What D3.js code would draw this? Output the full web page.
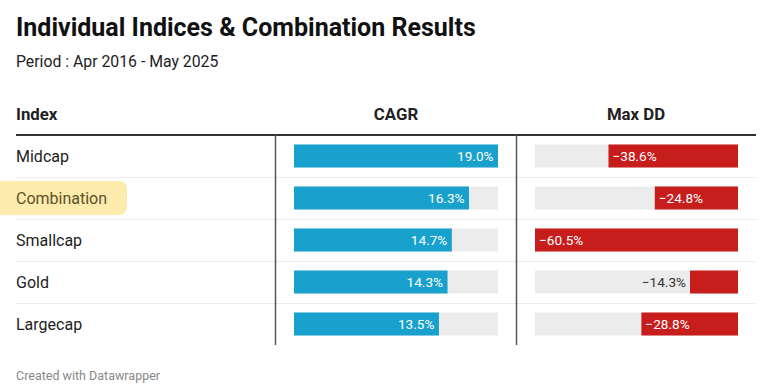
<!DOCTYPE html>
<html><head><meta charset="utf-8">
<script src="https://cdn.jsdelivr.net/npm/d3@7"></script>
<style>
html,body{margin:0;padding:0;background:#fff;}
svg{display:block;font-family:Roboto,"Noto Sans",sans-serif;}
</style></head>
<body><svg id="c" width="761" height="388"></svg>
<script>
const indices = ["Midcap","Combination","Smallcap","Gold","Largecap"];
const cagr = [19.0,16.3,14.7,14.3,13.5];
const maxDD = [-38.6,-24.8,-60.5,-14.3,-28.8];
const highlighted = ["Combination"];
const columns = ["Index","CAGR","Max DD"];

(function(){
const svg = d3.select("#c");

svg.append("text").attr("x",16).attr("y",36).attr("font-size",25).attr("font-weight",700)
  .attr("fill","#111").text("Individual Indices & Combination Results");
svg.append("text").attr("x",16).attr("y",67).attr("font-size",15.8).attr("fill","#222")
  .text("Period : Apr 2016 - May 2025");

const tableTop = 135, rowH = 42;
const y = d3.scaleBand().domain(indices).range([tableTop, tableTop + rowH*indices.length]).paddingInner(0).paddingOuter(0);

// headers
const hfs = 16.8;
svg.append("text").attr("x",16).attr("y",120).attr("font-size",hfs).attr("font-weight",700).attr("fill","#222").text(columns[0]);
svg.append("text").attr("x",396).attr("y",120).attr("text-anchor","middle").attr("font-size",hfs).attr("font-weight",700).attr("fill","#222").text(columns[1]);
svg.append("text").attr("x",636).attr("y",120).attr("text-anchor","middle").attr("font-size",hfs).attr("font-weight",700).attr("fill","#222").text(columns[2]);

// row separators
indices.slice(0,-1).forEach(d=>{
  svg.append("line").attr("x1",16).attr("x2",756).attr("y1",y(d)+y.bandwidth()+0.5).attr("y2",y(d)+y.bandwidth()+0.5)
    .attr("stroke","#ececec").attr("stroke-width",1);
});

// highlight
indices.forEach(d=>{
  if (highlighted.includes(d)) {
    svg.append("rect").attr("x",-8).attr("y",y(d)+4).attr("width",135).attr("height",y.bandwidth()-8)
      .attr("rx",8).attr("fill","#fdebae");
  }
});

// index labels
svg.selectAll(".lab").data(indices).enter().append("text")
  .attr("x",16).attr("y",d=>y(d)+y.bandwidth()/2+5.5).attr("font-size",16)
  .attr("fill",d=>highlighted.includes(d)?"#5c5128":"#222").text(d=>d);

// CAGR bars
const bh = 23, vfs = 13.6;
const xC = d3.scaleLinear().domain([0,d3.max(cagr)]).range([294,498]);
indices.forEach((d,i)=>{
  const cy = y(d)+y.bandwidth()/2;
  svg.append("rect").attr("x",xC(0)).attr("y",cy-bh/2).attr("width",xC(d3.max(cagr))-xC(0)).attr("height",bh).attr("fill","#ececec");
  svg.append("rect").attr("x",xC(0)).attr("y",cy-bh/2).attr("width",xC(cagr[i])-xC(0)).attr("height",bh).attr("fill","#18a1cd");
  svg.append("text").attr("x",xC(cagr[i])-4.5).attr("y",cy+5).attr("text-anchor","end").attr("font-size",vfs)
    .attr("fill","#fff").text(cagr[i].toFixed(1)+"%");
});

// Max DD bars (right aligned)
const xD = d3.scaleLinear().domain([d3.min(maxDD),0]).range([535,738]);
indices.forEach((d,i)=>{
  const cy = y(d)+y.bandwidth()/2;
  svg.append("rect").attr("x",xD(d3.min(maxDD))).attr("y",cy-bh/2).attr("width",xD(0)-xD(d3.min(maxDD))).attr("height",bh).attr("fill","#ececec");
  svg.append("rect").attr("x",xD(maxDD[i])).attr("y",cy-bh/2).attr("width",xD(0)-xD(maxDD[i])).attr("height",bh).attr("fill","#c71e1d");
  const lbl = "\u2212"+Math.abs(maxDD[i]).toFixed(1)+"%";
  const inside = (xD(0)-xD(maxDD[i])) > 55;
  svg.append("text").attr("x", inside ? xD(maxDD[i])+4 : xD(maxDD[i])-4).attr("y",cy+5)
    .attr("text-anchor", inside ? "start" : "end").attr("font-size",vfs)
    .attr("fill", inside ? "#fff" : "#333").text(lbl);
});

// header line and dividers
svg.append("line").attr("x1",16).attr("x2",756).attr("y1",tableTop).attr("y2",tableTop).attr("stroke","#333").attr("stroke-width",2);
const yEnd = y(indices[indices.length-1])+y.bandwidth();
[275.5,516.5].forEach(x=>{
  svg.append("line").attr("x1",x).attr("x2",x).attr("y1",tableTop).attr("y2",yEnd).attr("stroke","#555").attr("stroke-width",1.5);
});

svg.append("text").attr("x",16).attr("y",380).attr("font-size",12.5).attr("fill","#888").text("Created with Datawrapper");
})();
</script></body></html>
